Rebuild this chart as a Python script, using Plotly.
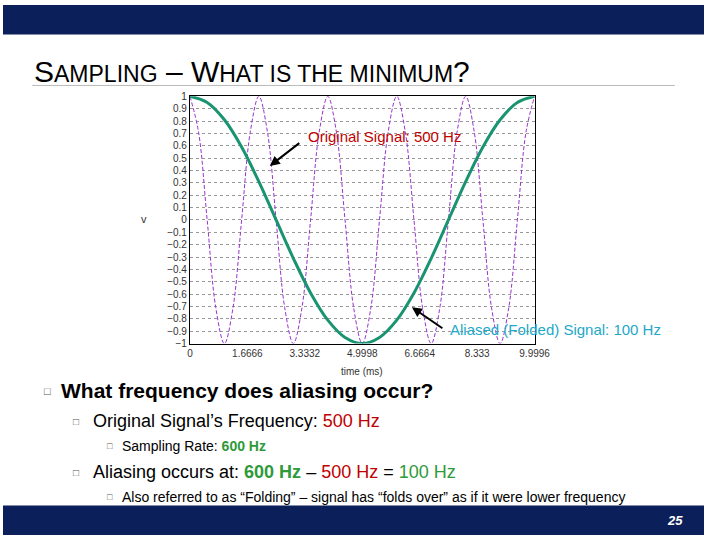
import plotly.graph_objects as go

# time in ms
t_orig = [i * 0.25 for i in range(41)]
v_orig = [1, 0.71, 0, -0.71, -1, -0.71, 0, 0.71] * 5 + [1]
t_alias = [i * 0.5 for i in range(21)]
v_alias = [1, 0.95, 0.81, 0.59, 0.31, 0, -0.31, -0.59, -0.81, -0.95, -1,
           -0.95, -0.81, -0.59, -0.31, 0, 0.31, 0.59, 0.81, 0.95, 1]
x_ticks = [0, 1.6666, 3.3332, 4.9998, 6.6664, 8.333, 9.9996]
x_labels = ["0", "1.6666", "3.3332", "4.9998", "6.6664", "8.333", "9.9996"]
y_ticks = [round(-1 + 0.1 * i, 1) for i in range(21)]

fig = go.Figure()
fig.add_trace(go.Scatter(x=t_orig, y=v_orig, mode="lines", line=dict(color="#9933cc", width=1, dash="4px,2px", shape="spline")))
fig.add_trace(go.Scatter(x=t_alias, y=v_alias, mode="lines", line=dict(color="#1a9470", width=3, shape="spline")))

navy = "#0b1f5a"
shapes = [
    dict(type="rect", xref="paper", yref="paper", x0=0, x1=1, y0=1 - 30 / 540, y1=1, fillcolor=navy, line_width=0, layer="below"),
    dict(type="rect", xref="paper", yref="paper", x0=0, x1=1, y0=0, y1=30 / 540, fillcolor=navy, line_width=0, layer="below"),
    dict(type="line", xref="paper", yref="paper", x0=30 / 720, x1=690 / 720, y0=1 - 82 / 540, y1=1 - 82 / 540, line=dict(color="#bbbbbb", width=1)),
]

def px(x, y):
    return x / 720, 1 - y / 540

anns = []
def txt(x, y, s, size, color="black", bold=False, anchor="left", italic=False):
    xx, yy = px(x, y)
    if bold:
        s = "<b>" + s + "</b>"
    if italic:
        s = "<i>" + s + "</i>"
    anns.append(dict(x=xx, y=yy, xref="paper", yref="paper", text=s, showarrow=False,
                     xanchor=anchor, yanchor="middle", font=dict(size=size, color=color, family="Arial")))

txt(30, 68, "S<span style='font-size:23px'>AMPLING</span> – W<span style='font-size:23px'>HAT IS THE MINIMUM</span>?", 30)
txt(40, 393, "□", 11, "#555")
txt(58, 393, "What frequency does aliasing occur?", 21, bold=True)
txt(70, 424, "□", 10, "#555")
txt(90, 424, "Original Signal’s Frequency: <span style='color:#c00000'>500 Hz</span>", 18)
txt(105, 449, "□", 9, "#555")
txt(120, 449, "Sampling Rate: <b><span style='color:#2e9a3a'>600 Hz</span></b>", 14)
txt(70, 476, "□", 10, "#555")
txt(90, 476, "Aliasing occurs at: <b><span style='color:#2e9a3a'>600 Hz</span></b> – <span style='color:#c00000'>500 Hz</span> = <span style='color:#2e9a3a'>100 Hz</span>", 18)
txt(105, 501, "□", 9, "#555")
txt(120, 501, "Also referred to as “Folding” – signal has “folds over” as if it were lower frequency", 14)
txt(700, 525, "25", 13, "white", bold=True, anchor="right", italic=True)
txt(311, 134, "Original Signal: 500 Hz", 15, "#c00000")
txt(457, 331, "Aliased (Folded) Signal: 100 Hz", 15, "#22a8c8")
txt(140, 218, "v", 11, "#333")
txt(369, 373, "time (ms)", 10, "#333", anchor="center")

for hx, hy, tx, ty in [(274, 164, 305, 140), (420, 308, 452, 330)]:
    a, b = px(hx, hy)
    anns.append(dict(x=a, y=b, ax=tx - hx, ay=ty - hy, xref="paper", yref="paper",
                     text="", showarrow=True, arrowhead=2, arrowsize=1, arrowwidth=2, arrowcolor="black"))

fig.update_layout(
    width=720, height=540, margin=dict(l=0, r=0, t=0, b=0),
    paper_bgcolor="white", plot_bgcolor="white", showlegend=False,
    shapes=shapes, annotations=anns,
    xaxis=dict(domain=[192 / 720, 546 / 720], range=[0, 9.9996], tickvals=x_ticks, ticktext=x_labels,
               showgrid=False, showline=True, linecolor="black", mirror=True, zeroline=False,
               tickfont=dict(size=10, family="Arial", color="#333")),
    yaxis=dict(domain=[1 - 345 / 540, 1 - 93 / 540], range=[-1, 1], tickvals=y_ticks,
               gridcolor="#999", griddash="dot", showline=True, linecolor="black", mirror=True,
               zeroline=False, tickfont=dict(size=10, family="Arial", color="#333")),
)
fig.write_html("out.html", config={"displayModeBar": False},
               post_script="document.body.style.margin='0';document.body.style.overflow='hidden';")
